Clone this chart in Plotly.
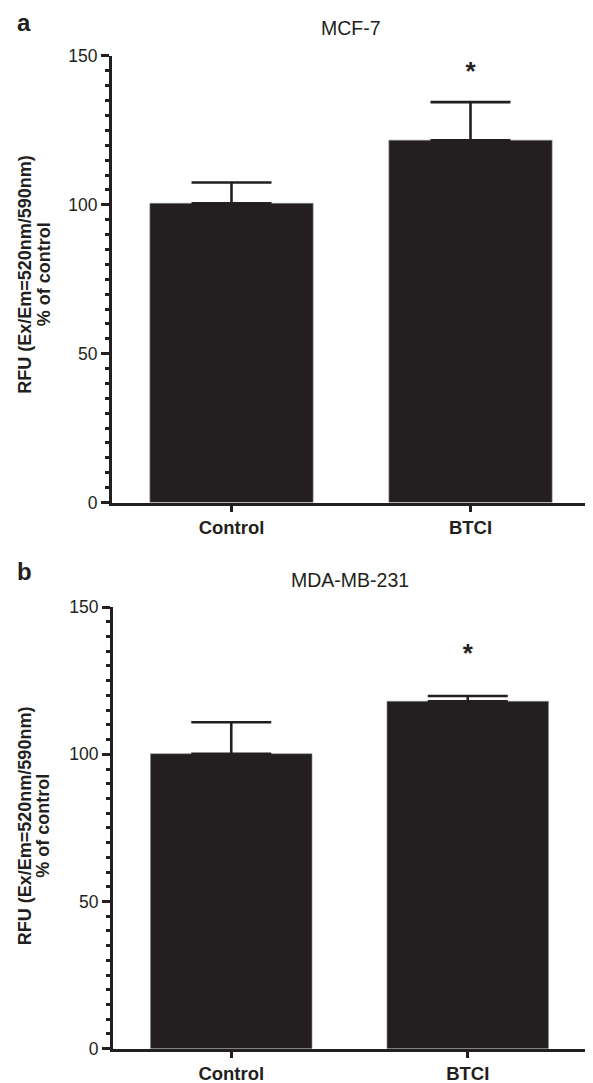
import plotly.graph_objects as go

categories = ["Control", "BTCI"]

# Panel a: MCF-7
mcf7_values = [100.5, 121.7]
mcf7_err = [7.0, 12.8]
mcf7_star = [None, 144.2]

# Panel b: MDA-MB-231
mda_values = [100.2, 118.0]
mda_err = [10.7, 1.8]
mda_star = [None, 133.6]

y_tickvals = [0, 50, 100, 150]
y_ticktext = ["0", "50", "100", "150"]

INK = "#231f20"
FONT = "Liberation Sans, Arial, Helvetica, sans-serif"

# figure size and page offset / scale compensation
W, H = 593, 1083
OX, OY, SY = 8, 16, 0.9825


def px(xr):
    return min(1.0, max(0.0, (xr - OX) / W))


def py(yr):
    return min(1.0, max(0.0, 1 - ((yr - OY) / SY) / H))


fig = go.Figure()


def add_panel(values, err, star, xa, ya):
    fig.add_trace(go.Bar(
        x=categories, y=values, width=0.683,
        marker=dict(color=INK, line=dict(color="#8a8a8a", width=0.6)),
        error_y=dict(type="data", symmetric=False, array=err,
                     arrayminus=[0] * len(err),
                     color=INK, thickness=2.6, width=40),
        xaxis=xa, yaxis=ya, showlegend=False, hoverinfo="skip",
    ))
    fig.add_trace(go.Scatter(
        x=categories, y=star, mode="text",
        text=["<b>*</b>" if s is not None else "" for s in star],
        textfont=dict(family=FONT, size=26, color=INK),
        xaxis=xa, yaxis=ya, showlegend=False, hoverinfo="skip",
    ))


add_panel(mcf7_values, mcf7_err, mcf7_star, "x", "y")
add_panel(mda_values, mda_err, mda_star, "x2", "y2")


def xax(domain, anchor):
    return dict(domain=domain, anchor=anchor, range=[-0.5, 1.5],
                showline=True, linewidth=3, linecolor=INK,
                ticks="outside", ticklen=6, tickwidth=2.5, tickcolor=INK,
                tickfont=dict(family=FONT, size=18.5, color=INK, weight="bold"),
                showgrid=False, zeroline=False, fixedrange=True)


def yax(domain, anchor):
    return dict(domain=domain, anchor=anchor, range=[0, 150],
                tickvals=y_tickvals, ticktext=y_ticktext,
                showline=True, linewidth=3, linecolor=INK,
                ticks="outside", ticklen=8, tickwidth=2.5, tickcolor=INK,
                minor=dict(dtick=5, tick0=0, ticks="outside", ticklen=4,
                           tickwidth=2.5, tickcolor=INK),
                tickfont=dict(family=FONT, size=17.5, color=INK),
                showgrid=False, zeroline=False, fixedrange=True)


fig.update_layout(
    width=W, height=H,
    margin=dict(l=0, r=0, t=0, b=0),
    paper_bgcolor="white", plot_bgcolor="white",
    xaxis=xax([px(112), px(590)], "y"),
    yaxis=yax([py(501), py(54)], "x"),
    xaxis2=xax([px(113), px(586)], "y2"),
    yaxis2=yax([py(1047.7), py(605.7)], "x2"),
)

line1 = "RFU (Ex/Em=520nm/590nm)"
line2 = "% of control"
ann = [
    dict(text="<b>a</b>", x=px(24), y=py(21), font=dict(family=FONT, size=24, color=INK)),
    dict(text="<b>b</b>", x=px(24), y=py(570), font=dict(family=FONT, size=24, color=INK)),
    dict(text="MCF-7", x=px(351), y=py(26.5), font=dict(family=FONT, size=19.5, color=INK)),
    dict(text="MDA-MB-231", x=px(350), y=py(579), font=dict(family=FONT, size=19.5, color=INK)),
]
for yc in (273, 825):
    ann.append(dict(text="<b>" + line1 + "</b>", x=px(25), y=py(yc), textangle=-90,
                    font=dict(family=FONT, size=18, color=INK)))
    ann.append(dict(text="<b>" + line2 + "</b>", x=px(43.5), y=py(yc), textangle=-90,
                    font=dict(family=FONT, size=18, color=INK)))
for a in ann:
    a.update(xref="paper", yref="paper", showarrow=False, xanchor="center", yanchor="middle")
fig.update_layout(annotations=ann)

fig.write_html("out.html")
